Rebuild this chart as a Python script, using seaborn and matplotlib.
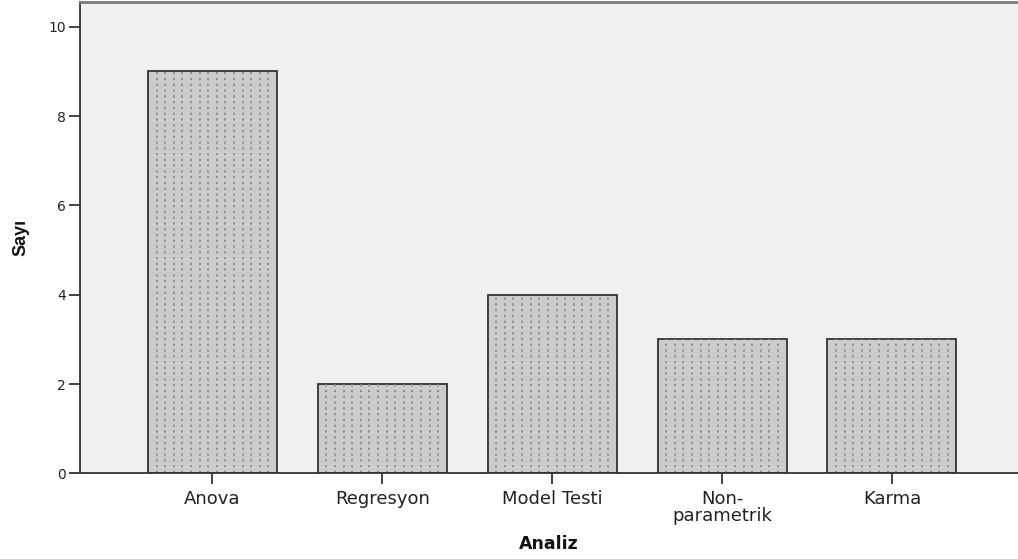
import pandas as pd
import numpy as np
import matplotlib
matplotlib.use('Agg')
import matplotlib.pyplot as plt
import seaborn as sns

# veri
kategoriler = ['Anova', 'Regresyon', 'Model Testi', 'Non-\nparametrik', 'Karma']
sayilar = [9, 2, 4, 3, 3]
y_ticks = [0, 2, 4, 6, 8, 10]

df = pd.DataFrame({'Analiz': kategoriler, 'Sayı': sayilar})

sns.set_style('white')
plt.rcParams['font.family'] = ['DejaVu Sans']

fig = plt.figure(figsize=(10.18, 5.59), dpi=100)
ax = fig.add_axes([0.0786, 0.153, 0.921, 0.843])
ax.set_facecolor('#f0f0f0')

sns.barplot(data=df, x='Analiz', y='Sayı', color='#cccccc', width=0.76,
            edgecolor='#333333', linewidth=1.3, saturation=1, ax=ax)

# noktalı dikey desen (bar kutularından türetilir)
for p in ax.patches:
    x0, w, h = p.get_x(), p.get_width(), p.get_height()
    xs = np.linspace(x0, x0 + w, 16)[1:-1]
    ax.vlines(xs, 0, h, colors='#8a8a8a', linestyles=(0, (1.2, 2.0)),
              linewidth=1.3, zorder=p.get_zorder() + 0.1)

ax.set_xlim(-0.78, 4.74)
ax.set_ylim(0, 10.55)
ax.set_yticks(y_ticks)
ax.tick_params(axis='y', length=8, width=1.3, color='#333333', labelsize=10, pad=2, left=True,
               labelcolor='#222222')
ax.tick_params(axis='x', length=8, width=1.3, color='#333333', labelsize=13, pad=4, bottom=True,
               labelcolor='#222222')
for lbl in ax.get_xticklabels():
    lbl.set_linespacing(0.95)

for s in ax.spines.values():
    s.set_color('#333333')
    s.set_linewidth(1.3)
ax.spines['top'].set_color('#7a7a7a')
ax.spines['top'].set_linewidth(2)
ax.spines['right'].set_visible(False)

ax.set_xlabel('Analiz', fontsize=12.5, fontweight='bold', labelpad=7, color='#111111')
ax.set_ylabel('Sayı', fontsize=13, fontweight='bold', labelpad=14, color='#111111',
              family=['Liberation Sans Narrow', 'Liberation Sans', 'DejaVu Sans'])

fig.savefig('out.png', dpi=100)
